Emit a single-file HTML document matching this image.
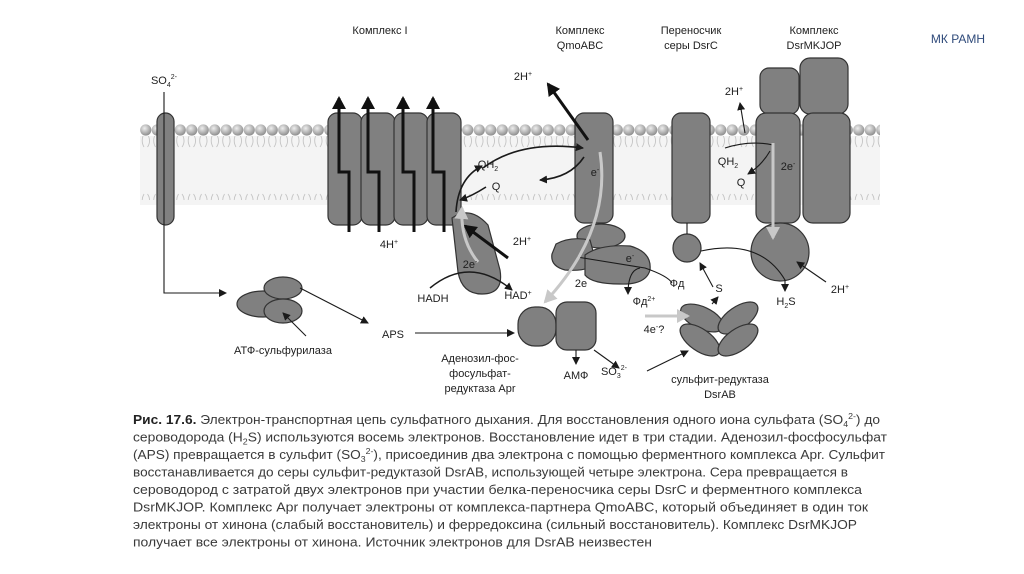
<!DOCTYPE html>
<html><head><meta charset="utf-8"><style>
html,body{margin:0;padding:0;background:#fff;}
svg{display:block;font-family:"Liberation Sans","DejaVu Sans",sans-serif;}
</style></head><body>
<svg width="1024" height="574" viewBox="0 0 1024 574" xmlns="http://www.w3.org/2000/svg">
<defs>
<radialGradient id="hg" cx="40%" cy="35%" r="65%"><stop offset="0" stop-color="#eeeeee"/><stop offset="1" stop-color="#8f8f8f"/></radialGradient>
<pattern id="heads" x="140" y="0" width="11.5" height="200" patternUnits="userSpaceOnUse">
<circle cx="5.75" cy="130" r="5.6" fill="url(#hg)"/>
<circle cx="5.75" cy="211" r="5.6" fill="url(#hg)"/>
<path d="M3 136 Q1 142 4 147 M8.5 136 Q11 142 7.5 147 M3 205 Q1 199 4 194 M8.5 205 Q11 199 7.5 194" stroke="#c4c4c4" stroke-width="0.9" fill="none"/>
</pattern>
<marker id="ah" markerWidth="8" markerHeight="8" refX="7" refY="4" orient="auto" markerUnits="userSpaceOnUse"><path d="M0,0 L8,4 L0,8 z" fill="#1a1a1a"/></marker>
<marker id="ahb" markerWidth="14" markerHeight="14" refX="11" refY="7" orient="auto" markerUnits="userSpaceOnUse"><path d="M0,0 L13,7 L0,14 z" fill="#111"/></marker>
<marker id="ahg" markerWidth="14" markerHeight="14" refX="11" refY="7" orient="auto" markerUnits="userSpaceOnUse"><path d="M0,0 L13,7 L0,14 z" fill="#c8c8c8"/></marker>
</defs>

<rect x="140" y="136" width="740" height="69" fill="#f4f4f4"/>
<rect x="140" y="120" width="740" height="100" fill="url(#heads)"/>

<g fill="#808080" stroke="#333" stroke-width="1.2">
<rect x="157" y="113" width="17" height="112" rx="8.5"/>
<rect x="328" y="113" width="34" height="112" rx="9"/>
<rect x="361" y="113" width="34" height="112" rx="9"/>
<rect x="394" y="113" width="34" height="112" rx="9"/>
<rect x="427" y="113" width="34" height="112" rx="9"/>
<path d="M452 218 Q470 205 488 225 L500 270 Q504 294 482 294 Q462 294 458 272 Z"/>
<rect x="575" y="113" width="38" height="110" rx="9"/>
<ellipse cx="601" cy="236" rx="24" ry="12"/>
<path d="M556 244 Q570 236 590 240 L596 262 Q590 272 565 270 Q550 266 552 254 Z"/>
<path d="M585 255 Q600 244 630 246 Q652 252 650 270 Q646 285 620 284 Q592 284 585 275 Z"/>
<rect x="672" y="113" width="38" height="110" rx="9"/>
<circle cx="687" cy="248" r="14"/>
<rect x="760" y="68" width="39" height="46" rx="9"/>
<rect x="800" y="58" width="48" height="56" rx="10"/>
<rect x="756" y="113" width="44" height="110" rx="10"/>
<rect x="803" y="113" width="47" height="110" rx="10"/>
<circle cx="780" cy="252" r="29"/>
<ellipse cx="263" cy="304" rx="26" ry="13"/>
<ellipse cx="283" cy="288" rx="19" ry="11"/>
<ellipse cx="283" cy="311" rx="19" ry="12"/>
<rect x="518" y="307" width="38" height="39" rx="17"/>
<rect x="556" y="302" width="40" height="48" rx="11"/>
<ellipse cx="702" cy="318" rx="23" ry="11" transform="rotate(25 702 318)"/>
<ellipse cx="738" cy="318" rx="23" ry="11" transform="rotate(-35 738 318)"/>
<ellipse cx="700" cy="340" rx="23" ry="11" transform="rotate(35 700 340)"/>
<ellipse cx="738" cy="340" rx="23" ry="11" transform="rotate(-35 738 340)"/>
</g>

<g stroke="#1a1a1a" stroke-width="1.1" fill="none">
<path d="M164 92 V293 H226" marker-end="url(#ah)"/>
<path d="M300 288 L368 323" marker-end="url(#ah)"/>
<path d="M415 333 H514" marker-end="url(#ah)"/>
<path d="M306 336 L283 313" marker-end="url(#ah)"/>
<path d="M456 212 Q458 178 482 166" stroke-width="1.6" marker-end="url(#ah)"/>
<path d="M483 168 Q520 140 583 148" stroke-width="1.6" marker-end="url(#ah)"/>
<path d="M584 157 Q570 178 540 180" stroke-width="1.6" marker-end="url(#ah)"/>
<path d="M486 187 Q472 196 460 200" stroke-width="1.6" marker-end="url(#ah)"/>
<path d="M430 288 Q470 255 512 290" stroke-width="1.5" marker-end="url(#ah)"/>
<path d="M577 257 L645 268 Q668 276 672 283"/>
<path d="M640 268 Q628 270 628 294" marker-end="url(#ah)"/>
<path d="M576 350 V364" marker-end="url(#ah)"/>
<path d="M594 350 L619 368" marker-end="url(#ah)"/>
<path d="M647 371 L688 351" marker-end="url(#ah)"/>
<path d="M712 304 L718 297" marker-end="url(#ah)"/>
<path d="M713 287 L700 263" marker-end="url(#ah)"/>
<path d="M687 234 V223"/>
<path d="M701 251 Q760 238 785 280 L785 291" marker-end="url(#ah)"/>
<path d="M826 282 L797 262" marker-end="url(#ah)"/>
<path d="M725 148 Q750 140 773 145"/>
<path d="M745 133 L740 103" marker-end="url(#ah)"/>
<path d="M770 151 Q762 165 748 174" marker-end="url(#ah)"/>
</g>

<g stroke="#111" stroke-width="3" fill="none">
<path d="M349 232 V172 H339 V98" marker-end="url(#ahb)"/>
<path d="M379 232 V172 H368 V98" marker-end="url(#ahb)"/>
<path d="M414 232 V172 H403 V98" marker-end="url(#ahb)"/>
<path d="M444 232 V172 H433 V98" marker-end="url(#ahb)"/>
<path d="M588 140 L548 84" marker-end="url(#ahb)"/>
<path d="M508 258 L465 226" marker-end="url(#ahb)"/>
</g>

<g stroke="#c8c8c8" stroke-width="3" fill="none">
<path d="M600 152 Q612 230 545 302" marker-end="url(#ahg)"/>
<path d="M478 262 Q460 240 462 208" marker-end="url(#ahg)"/>
<path d="M773 143 V238" marker-end="url(#ahg)"/>
<path d="M645 316 H688" marker-end="url(#ahg)"/>
</g>

<g font-size="11" fill="#1e1e1e" text-anchor="middle">
<text x="380" y="34">Комплекс I</text>
<text x="580" y="34">Комплекс</text><text x="580" y="49">QmoABC</text>
<text x="691" y="34">Переносчик</text><text x="691" y="49">серы DsrC</text>
<text x="814" y="34">Комплекс</text><text x="814" y="49">DsrMKJOP</text>
<text x="164" y="84">SO<tspan font-size="7" dy="3">4</tspan><tspan font-size="7" dy="-8">2-</tspan></text>
<text x="523" y="80">2H<tspan font-size="7" dy="-4">+</tspan></text>
<text x="488" y="168">QH<tspan font-size="7" dy="3">2</tspan></text>
<text x="496" y="190">Q</text>
<text x="595" y="176">e<tspan font-size="7" dy="-4">-</tspan></text>
<text x="522" y="245">2H<tspan font-size="7" dy="-4">+</tspan></text>
<text x="389" y="248">4H<tspan font-size="7" dy="-4">+</tspan></text>
<text x="470" y="268">2e<tspan font-size="7" dy="-4">-</tspan></text>
<text x="433" y="302">HADH</text>
<text x="518" y="299">HAD<tspan font-size="7" dy="-4">+</tspan></text>
<text x="393" y="338">APS</text>
<text x="283" y="354">АТФ-сульфурилаза</text>
<text x="480" y="362">Аденозил-фос-</text>
<text x="480" y="377">фосульфат-</text>
<text x="480" y="392">редуктаза Apr</text>
<text x="576" y="379">АМФ</text>
<text x="614" y="375">SO<tspan font-size="7" dy="3">3</tspan><tspan font-size="7" dy="-8">2-</tspan></text>
<text x="630" y="262">e<tspan font-size="7" dy="-4">-</tspan></text>
<text x="581" y="287">2e</text>
<text x="677" y="287">Фд</text>
<text x="644" y="305">Фд<tspan font-size="7" dy="-4">2+</tspan></text>
<text x="654" y="333">4e<tspan font-size="7" dy="-4">-</tspan><tspan dy="4">?</tspan></text>
<text x="719" y="292">S</text>
<text x="734" y="95">2H<tspan font-size="7" dy="-4">+</tspan></text>
<text x="728" y="165">QH<tspan font-size="7" dy="3">2</tspan></text>
<text x="741" y="186">Q</text>
<text x="788" y="170">2e<tspan font-size="7" dy="-4">-</tspan></text>
<text x="786" y="305">H<tspan font-size="7" dy="3">2</tspan><tspan dy="-3">S</tspan></text>
<text x="840" y="293">2H<tspan font-size="7" dy="-4">+</tspan></text>
<text x="720" y="383">сульфит-редуктаза</text>
<text x="720" y="398">DsrAB</text>
</g>
<text x="958" y="43" font-size="12" fill="#2f4a7a" text-anchor="middle">МК РАМН</text>

<g font-size="12.5" fill="#3a3a3a">
<text x="133" y="424" textLength="747" lengthAdjust="spacingAndGlyphs"><tspan font-weight="bold" fill="#222">Рис. 17.6.</tspan> Электрон-транспортная цепь сульфатного дыхания. Для восстановления одного иона сульфата (SO<tspan font-size="8" dy="3">4</tspan><tspan font-size="8" dy="-8">2-</tspan><tspan dy="5">) до</tspan></text>
<text x="133" y="441.5" textLength="754" lengthAdjust="spacingAndGlyphs">сероводорода (H<tspan font-size="8" dy="3">2</tspan><tspan dy="-3">S) используются восемь электронов. Восстановление идет в три стадии. Аденозил-фосфосульфат</tspan></text>
<text x="133" y="459" textLength="752" lengthAdjust="spacingAndGlyphs">(APS) превращается в сульфит (SO<tspan font-size="8" dy="3">3</tspan><tspan font-size="8" dy="-8">2-</tspan><tspan dy="5">), присоединив два электрона с помощью ферментного комплекса Apr. Сульфит</tspan></text>
<text x="133" y="476.5" textLength="715" lengthAdjust="spacingAndGlyphs">восстанавливается до серы сульфит-редуктазой DsrAB, использующей четыре электрона. Сера превращается в</text>
<text x="133" y="494" textLength="729" lengthAdjust="spacingAndGlyphs">сероводород с затратой двух электронов при участии белка-переносчика серы DsrC и ферментного комплекса</text>
<text x="133" y="511.5" textLength="735" lengthAdjust="spacingAndGlyphs">DsrMKJOP. Комплекс Apr получает электроны от комплекса-партнера QmoABC, который объединяет в один ток</text>
<text x="133" y="529" textLength="724" lengthAdjust="spacingAndGlyphs">электроны от хинона (слабый восстановитель) и ферредоксина (сильный восстановитель). Комплекс DsrMKJOP</text>
<text x="133" y="546.5" textLength="519" lengthAdjust="spacingAndGlyphs">получает все электроны от хинона. Источник электронов для DsrAB неизвестен</text>
</g>
</svg>
</body></html>
